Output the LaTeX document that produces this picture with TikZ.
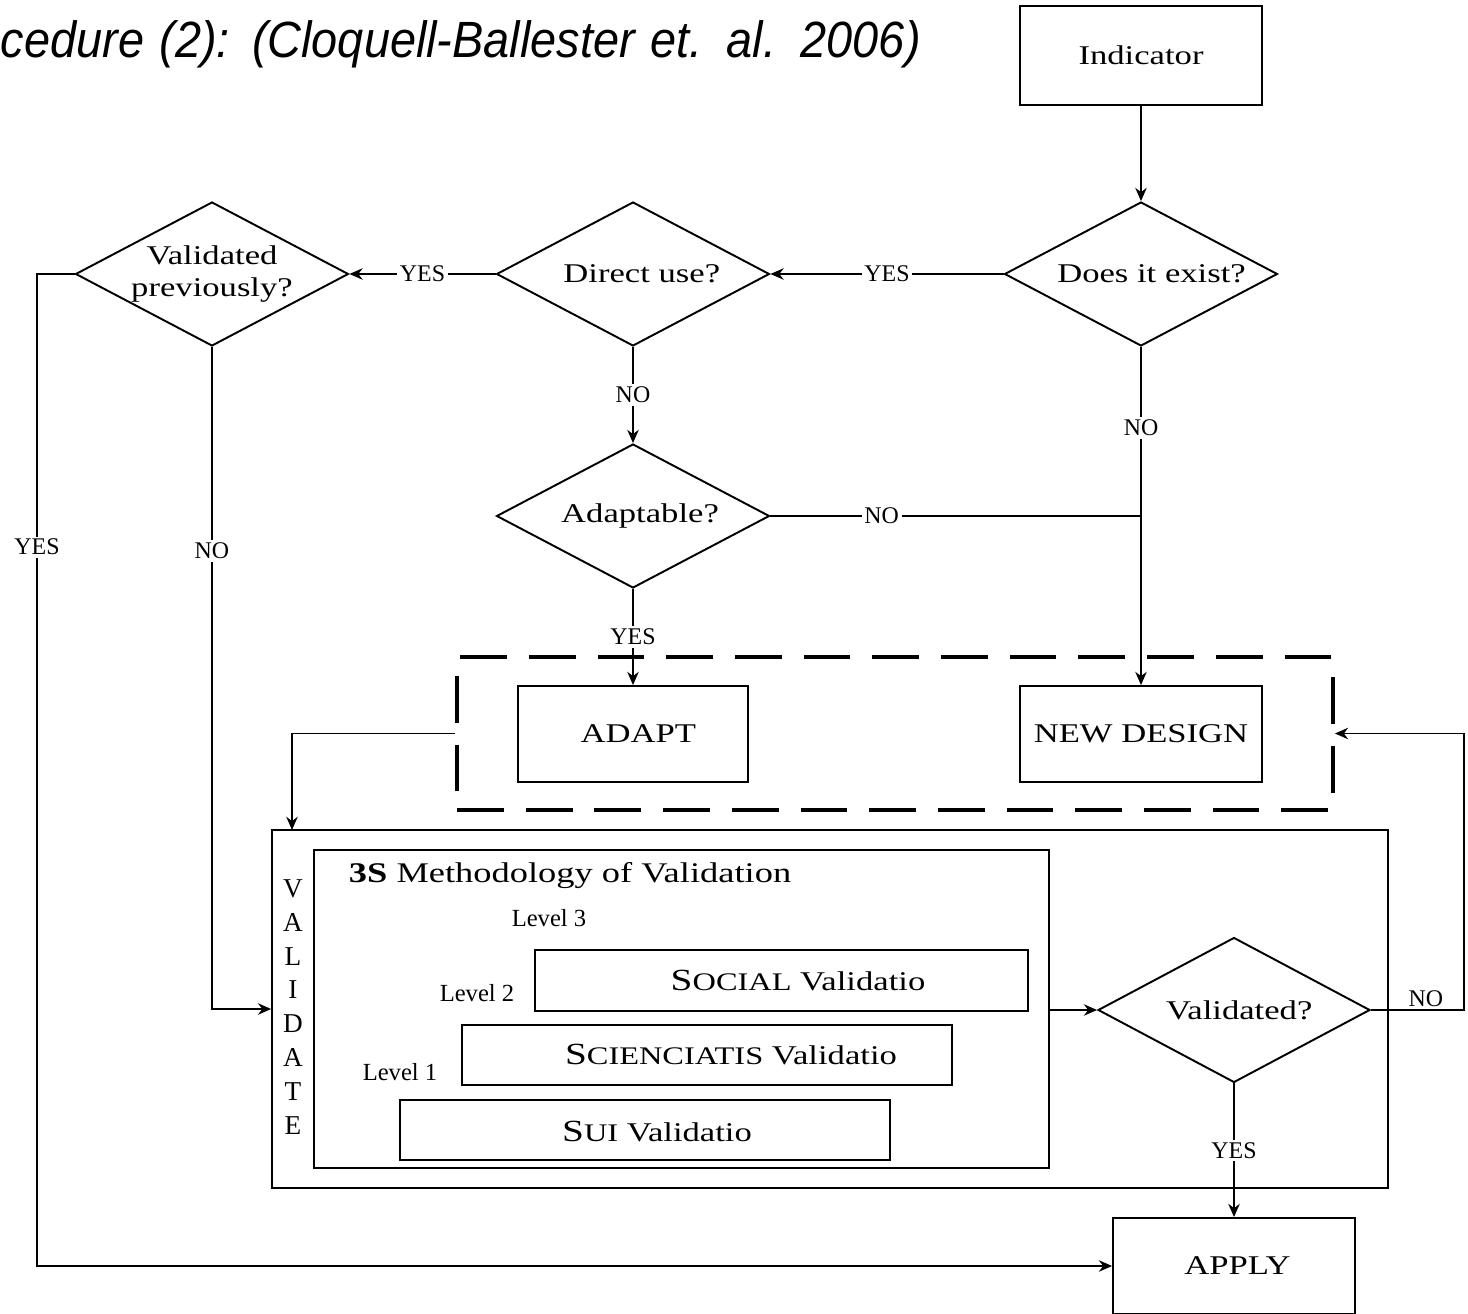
\documentclass[tikz,border=0pt]{standalone}
\usepackage{fontspec}
\setmainfont{Liberation Serif}
\newfontfamily\dgfam[FakeStretch=1.28]{Liberation Serif}
\newfontfamily\ttlfam[FakeStretch=0.92]{Liberation Sans}
\usetikzlibrary{shapes.geometric,arrows.meta}
\newcommand\dgfont{\dgfam\fontsize{15.4}{18.2}\selectfont}
\newcommand\labfont{\fontsize{13.6}{15}\selectfont}
\newcommand\lvlfont{\fontsize{14}{16}\selectfont}
\begin{document}
\begin{tikzpicture}[x=0.02cm,y=-0.02cm,
  line width=1.1pt,
  every node/.style={font=\dgfont},
  box/.style={draw, rectangle, inner sep=0pt, align=center},
  dia/.style={draw, diamond, aspect=1.9, inner sep=0pt, align=center, minimum width=5.46cm, minimum height=2.88cm},
  arr/.style={-{Stealth[length=7.5pt,width=6.5pt]}},
  lab/.style={font=\labfont, fill=white, inner sep=1.5pt},
  lvl/.style={font=\lvlfont, inner sep=0pt}]
\useasboundingbox (0,0) rectangle (1468,1314);
% title
\node[anchor=base west, inner sep=0pt, font=\ttlfam\itshape\fontsize{29}{32}\selectfont] (title) at (0,58) {\makebox[18.4cm][s]{cedure (2): (Cloquell-Ballester et. al. 2006)}};
% nodes
\node[box, minimum width=4.84cm, minimum height=1.98cm] (ind) at (1141,55.5) {Indicator};
\node[dia] (exist) at (1141,274) {\hspace*{12pt}Does it exist?};
\node[dia] (direct) at (633,274) {\hspace*{10pt}Direct use?};
\node[dia] (prev) at (212,274) {Validated\\previously?};
\node[dia] (adaptq) at (633,516) {\hspace*{8pt}Adaptable?};
\node[draw, dash pattern=on 26.6pt off 12.5pt, line width=2.3pt, minimum width=17.52cm, minimum height=3.06cm, inner sep=0pt] (grp) at (895,733.5) {};
\node[box, minimum width=4.6cm, minimum height=1.92cm] (adapt) at (633,734) {\hspace*{6pt}ADAPT};
\node[box, minimum width=4.84cm, minimum height=1.92cm] (newd) at (1141,734) {NEW DESIGN};
\node[box, minimum width=22.32cm, minimum height=7.16cm] (outer) at (830,1009) {};
\node[box, minimum width=14.7cm, minimum height=6.36cm] (inner) at (681.5,1009) {};
\node[box, minimum width=9.86cm, minimum height=1.22cm] (social) at (781.5,980.5) {};
\node[box, minimum width=9.8cm, minimum height=1.2cm] (scien) at (707,1055) {};
\node[box, minimum width=9.8cm, minimum height=1.2cm] (sui) at (645,1130) {};
\node (socialt) at (798,981) {{\fontsize{17.5}{18}\selectfont S}{\fontsize{14.4}{15}\selectfont OCIAL} Validatio};
\node (sciert) at (731,1055) {{\fontsize{17.5}{18}\selectfont S}{\fontsize{14.4}{15}\selectfont CIENCIATIS} Validatio};
\node (suit) at (657,1132) {{\fontsize{17.5}{18}\selectfont S}{\fontsize{14.4}{15}\selectfont UI} Validatio};
\node[anchor=base west, inner sep=0pt, font=\dgfam\fontsize{16.2}{18}\selectfont] (meth) at (348,882) {\textbf{3S} Methodology of Validation};
\node[lvl] (lv3) at (549,918) {Level 3};
\node[lvl] (lv2) at (477,993) {Level 2};
\node[lvl] (lv1) at (400,1072) {Level 1};
\node[align=center, inner sep=0pt, font=\fontsize{15.5}{19.3}\selectfont] (vtxt) at (293,1007) {V\\A\\L\\I\\D\\A\\T\\E};
\node[dia, minimum width=5.44cm, minimum height=2.9cm] (validq) at (1234,1010) {\hspace*{6pt}Validated?};
\node[box, minimum width=4.84cm, minimum height=1.92cm] (apply) at (1234,1266) {\hspace*{4pt}APPLY};
% coordinates
\coordinate (cJ) at (1141,516);
\coordinate (cV) at (292,830);
\coordinate (cY) at (37,274);
\coordinate (cN) at (1464,1010);
% connectors
\draw[arr] (ind.south) -- (exist.north);
\draw[arr] (exist.west) -- node[lab]{YES} (direct.east);
\draw[arr] (direct.west) -- node[lab]{YES} (prev.east);
\draw[arr] (direct.south) -- node[lab]{NO} (adaptq.north);
\draw (adaptq.east) -- node[lab,pos=0.3]{NO} (cJ);
\draw[arr] (exist.south) -- node[lab,pos=0.24]{NO} (newd.north);
\draw[arr] (adaptq.south) -- node[lab]{YES} (adapt.north);
\draw[arr] (grp.west) -| (cV);
\draw[arr] (prev.south) |- node[lab,pos=0.154]{NO} (outer.west);
\draw[arr] (prev.west) -- (cY) |- node[lab,pos=0.1377]{YES} (apply.west);
\draw[arr] (inner.east |- validq.west) -- (validq.west);
\draw[arr] (validq.east) -- node[lab, fill=none, above, pos=0.59]{NO} (cN) |- (grp.east);
\draw[arr] (validq.south) -- node[lab]{YES} (apply.north);
\end{tikzpicture}
\end{document}
